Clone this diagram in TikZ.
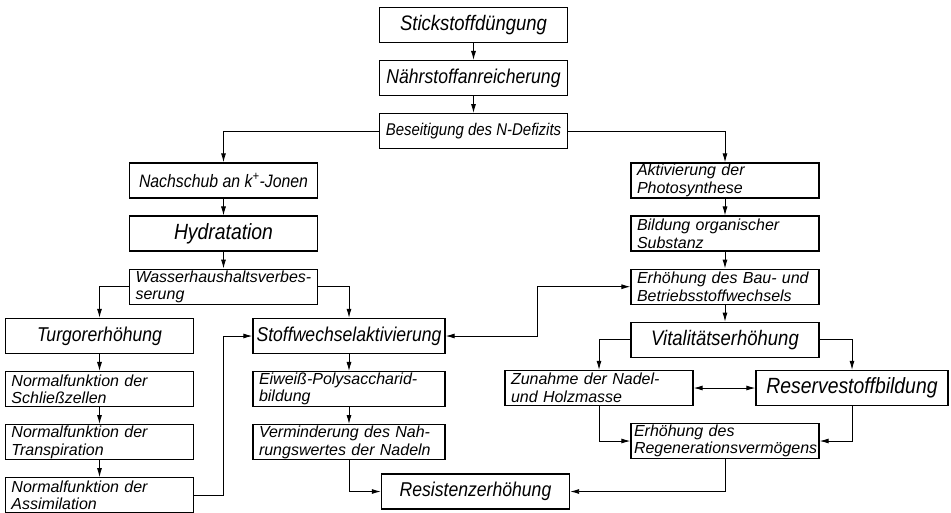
\documentclass[tikz,border=0pt]{standalone}
\usepackage{fontspec}
\setmainfont{Liberation Sans}
\newfontfamily\narrowfont{Liberation Sans}[FakeStretch=0.88]
\usetikzlibrary{arrows.meta,positioning}

\begin{document}
\begin{tikzpicture}[x=1pt,y=-1pt,
  >={Latex[length=9pt,width=5pt]},
  box/.style={draw,line width=1.3pt,minimum width=188pt,minimum height=35pt,
              inner xsep=3pt,inner ysep=2pt,align=center,fsize=20},
  twoline/.style={box,inner xsep=6pt,inner ysep=1.2pt,text width=176pt,align=left,
              font=\itshape\fontsize{16}{17.5}\selectfont},
  wide/.style={minimum width=192pt},
  fsize/.style={font=\narrowfont\itshape\fontsize{#1}{#1}\selectfont},
  ln/.style={line width=0.9pt},
  node distance=16.8pt]
\useasboundingbox (0,0) rectangle (951,512);
% middle column
\node[box,fsize=21] (S) at (473.5,25) {Stickstoffdüngung};
\node[box,below=of S] (N) {Nährstoffanreicherung};
\node[box,below=of N,fsize=17] (B) {Beseitigung des N-Defizits};
% left branch
\node[box,fsize=18] (K) at (223.5,180.5) {Nachschub an k\textsuperscript{+}-Jonen};
\node[box,below=of K,fsize=22] (H) {Hydratation};
\node[twoline,below=of H] (W) {Wasserhaushaltsverbes-\\serung};
\node[box] (T) at (99.5,336) {Turgorerhöhung};
\node[twoline,below=of T] (SZ) {Normalfunktion der\\Schließzellen};
\node[twoline,below=of SZ] (TR) {Normalfunktion der\\Transpiration};
\node[twoline,below=of TR] (AS) {Normalfunktion der\\Assimilation};
\node[box,wide] (SA) at (349,336) {Stoffwechselaktivierung};
\node[twoline,wide,text width=180pt,below=of SA] (EP) {Eiweiß-Polysaccharid-\\bildung};
\node[twoline,wide,text width=180pt,below=of EP] (VN) {Verminderung des Nah-\\rungswertes der Nadeln};
\node[box] (R) at (475.5,491.5) {Resistenzerhöhung};
% right branch
\node[twoline] (AP) at (725,180.5) {Aktivierung der\\Photosynthese};
\node[twoline,below=of AP] (BO) {Bildung organischer\\Substanz};
\node[twoline,below=of BO] (EB) {Erhöhung des Bau- und\\Betriebsstoffwechsels};
\node[box,below=of EB,fsize=21] (V) {Vitalitätserhöhung};
\node[twoline] (ZN) at (599,388) {Zunahme der Nadel-\\und Holzmasse};
\node[box,wide,fsize=22] (RB) at (852,388) {Reservestoffbildung};
\node[twoline,inner xsep=3pt,text width=182pt] (ER) at (725,441) {Erhöhung des\\Regenerationsvermögens};
\draw[ln,->] (S)--(N); \draw[ln,->] (N)--(B);
\draw[ln,->] (B.west) -| (K.north); \draw[ln,->] (B.east) -| (AP.north);
\draw[ln,->] (K)--(H); \draw[ln,->] (H)--(W);
\draw[ln,->] (W.west) -| (T.north); \draw[ln,->] (W.east) -| (SA.north);
\draw[ln,->] (T)--(SZ); \draw[ln,->] (SZ)--(TR); \draw[ln,->] (TR)--(AS);
\draw[ln,->] (AS.east) -- ++(29,0) |- (SA.west);
\draw[ln,->] (SA)--(EP); \draw[ln,->] (EP)--(VN);
\draw[ln,->] (VN.south) |- (R.west);
\draw[ln,->] (AP)--(BO); \draw[ln,->] (BO)--(EB); \draw[ln,->] (EB)--(V);
\draw[ln,<->] (SA.east) -- ++(92,0) |- (EB.west);
\draw[ln,->] (V.west) -| (ZN.north); \draw[ln,->] (V.east) -| (RB.north);
\draw[ln,<->] (ZN)--(RB);
\draw[ln,->] (ZN.south) |- (ER.west); \draw[ln,->] (RB.south) |- (ER.east);
\draw[ln,->] (ER.south) |- (R.east);
\end{tikzpicture}
\end{document}
